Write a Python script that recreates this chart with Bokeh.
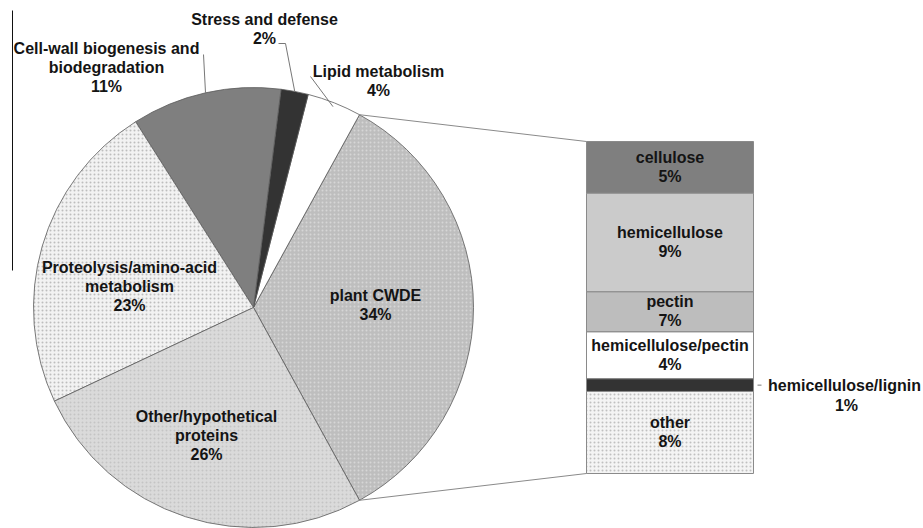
import numpy as np
from bokeh.plotting import figure
from bokeh.models import Range1d, ColumnDataSource
from bokeh.core.properties import value
from bokeh.embed import file_html
from bokeh.resources import INLINE

# ---------------- data ----------------
# pie slices, in anticlockwise order starting with the exploded slice
pie_names = ["plant CWDE", "Lipid metabolism", "Stress and defense",
             "Cell-wall biogenesis and biodegradation",
             "Proteolysis/amino-acid metabolism", "Other/hypothetical proteins"]
pie_values = [34, 4, 2, 11, 23, 26]
pie_label_lines = [["plant CWDE", "34%"],
                   ["Lipid metabolism", "4%"],
                   ["Stress and defense", "2%"],
                   ["Cell-wall biogenesis and", "biodegradation", "11%"],
                   ["Proteolysis/amino-acid", "metabolism", "23%"],
                   ["Other/hypothetical", "proteins", "26%"]]

# breakdown of "plant CWDE" (top to bottom); heights as drawn, labels as printed
bar_names = ["cellulose", "hemicellulose", "pectin", "hemicellulose/pectin",
             "hemicellulose/lignin", "other"]
bar_heights = [5.3, 10.1, 4.1, 4.8, 1.3, 8.4]
bar_labels = ["5%", "9%", "7%", "4%", "1%", "8%"]

# ---------------- styles / layout ----------------
pie_fill = ["#bebebe", "#ffffff", "#333333", "#7f7f7f", "#f2f2f2", "#dadada"]
pie_hatch = ["dot", " ", " ", " ", "dot", "dot"]
pie_hatch_col = ["#d6d6d6", "#ffffff", "#333333", "#7f7f7f", "#bdbdbd", "#c4c4c4"]
bar_fill = ["#7f7f7f", "#cbcbcb", "#bdbdbd", "#ffffff", "#333333", "#f4f4f4"]
bar_hatch = [" ", " ", " ", " ", " ", "dot"]
bar_hatch_col = ["#7f7f7f", "#cbcbcb", "#bdbdbd", "#ffffff", "#333333", "#c0c0c0"]

W, H = 923, 528
def sy(y):  # picture y (pixels from top) -> data y
    return H - y

CX, CY, R = 253, sy(307), 220
BAR_L, BAR_R, BAR_T, BAR_B = 586, 753, sy(141), sy(473)

FONT = value("Liberation Sans")
FS = "16px"
TXT = "#141414"

p = figure(width=W, height=H, output_backend="svg", toolbar_location=None,
           x_range=Range1d(0, W), y_range=Range1d(0, H),
           min_border=0, outline_line_color=None)
p.axis.visible = False
p.grid.visible = False
p.background_fill_color = "white"
p.border_fill_color = "white"

# ---------------- pie ----------------
vals = np.array(pie_values, dtype=float)
frac = vals / vals.sum()
start0 = -frac[0] * np.pi
ends = start0 + np.cumsum(frac) * 2 * np.pi
starts = np.concatenate([[start0], ends[:-1]])
mids = (starts + ends) / 2

src = ColumnDataSource(dict(x=[CX] * len(vals), y=[CY] * len(vals),
                            s=starts, e=ends, fill=pie_fill,
                            hatch=pie_hatch, hcol=pie_hatch_col))
p.wedge(x="x", y="y", radius=R, start_angle="s", end_angle="e",
        direction="anticlock", source=src, fill_color="fill",
        hatch_pattern="hatch", hatch_color="hcol", hatch_scale=4, hatch_weight=1,
        line_color="#5a5a5a", line_width=0.8)

# ---------------- bar of CWDE ----------------
bh = np.array(bar_heights, dtype=float)
scale = (BAR_T - BAR_B) / bh.sum()
tops = BAR_T - np.concatenate([[0], np.cumsum(bh)[:-1]]) * scale
bots = BAR_T - np.cumsum(bh) * scale
bsrc = ColumnDataSource(dict(l=[BAR_L] * len(bh), r=[BAR_R] * len(bh), t=tops, b=bots,
                             fill=bar_fill, hatch=bar_hatch, hcol=bar_hatch_col))
p.quad(left="l", right="r", top="t", bottom="b", source=bsrc, fill_color="fill",
       hatch_pattern="hatch", hatch_color="hcol", hatch_scale=4, hatch_weight=1,
       line_color="#8a8a8a", line_width=1)

# connector lines from the CWDE slice edges to the bar
ux, uy = CX + R * np.cos(ends[0]), CY + R * np.sin(ends[0])
lx, ly = CX + R * np.cos(starts[0]), CY + R * np.sin(starts[0])
p.segment(x0=[ux, lx], y0=[uy, ly], x1=[BAR_L, BAR_L], y1=[BAR_T, BAR_B],
          line_color="#8a8a8a", line_width=1)

# ---------------- labels ----------------
# label anchor (centre of first line) in picture pixels, per slice
pie_label_pos = [(375, 295), (378, 71), (264, 19), (106, 48), (129, 267), (206, 416)]
LINE = 19
xs, ys, ts = [], [], []
for (px, py), lines in zip(pie_label_pos, pie_label_lines):
    for k, t in enumerate(lines):
        xs.append(px); ys.append(sy(py + k * LINE)); ts.append(t)

bar_mid = (BAR_L + BAR_R) / 2
for i, (n, lab) in enumerate(zip(bar_names, bar_labels)):
    if n == "hemicellulose/lignin":
        cy = sy(385)
        xs += [844, 846]; ys += [cy, cy - 20]; ts += [n, lab]
    else:
        c = (tops[i] + bots[i]) / 2 + 10
        xs += [bar_mid, bar_mid]; ys += [c, c - 19]; ts += [n, lab]

p.text(x=xs, y=ys, text=ts, text_font=FONT, text_font_size=FS,
       text_font_style="bold", text_color=TXT, text_align="center",
       text_baseline="middle")

# leader lines for the small top slices
def edge(i, r=R):
    return CX + r * np.cos(mids[i]), CY + r * np.sin(mids[i])

ex, ey = edge(2)
p.line(x=[278, 285, ex], y=[sy(43), sy(43), ey], line_color="#777777", line_width=1)
ex, ey = edge(3)
p.line(x=[203, ex], y=[sy(54), ey], line_color="#777777", line_width=1)
ex, ey = edge(1, R - 4)
p.line(x=[310, ex], y=[sy(76), ey], line_color="#777777", line_width=1)
# hemicellulose/lignin tick
lig = bar_names.index("hemicellulose/lignin")
p.segment(x0=[BAR_R + 4], y0=[(tops[lig] + bots[lig]) / 2], x1=[BAR_R + 8],
          y1=[(tops[lig] + bots[lig]) / 2], line_color="#777777", line_width=1)

# stray vertical rule at left
p.segment(x0=[12], y0=[sy(10)], x1=[12], y1=[sy(270)], line_color="#111111", line_width=1)

open("out.html", "w").write(file_html(p, INLINE))
